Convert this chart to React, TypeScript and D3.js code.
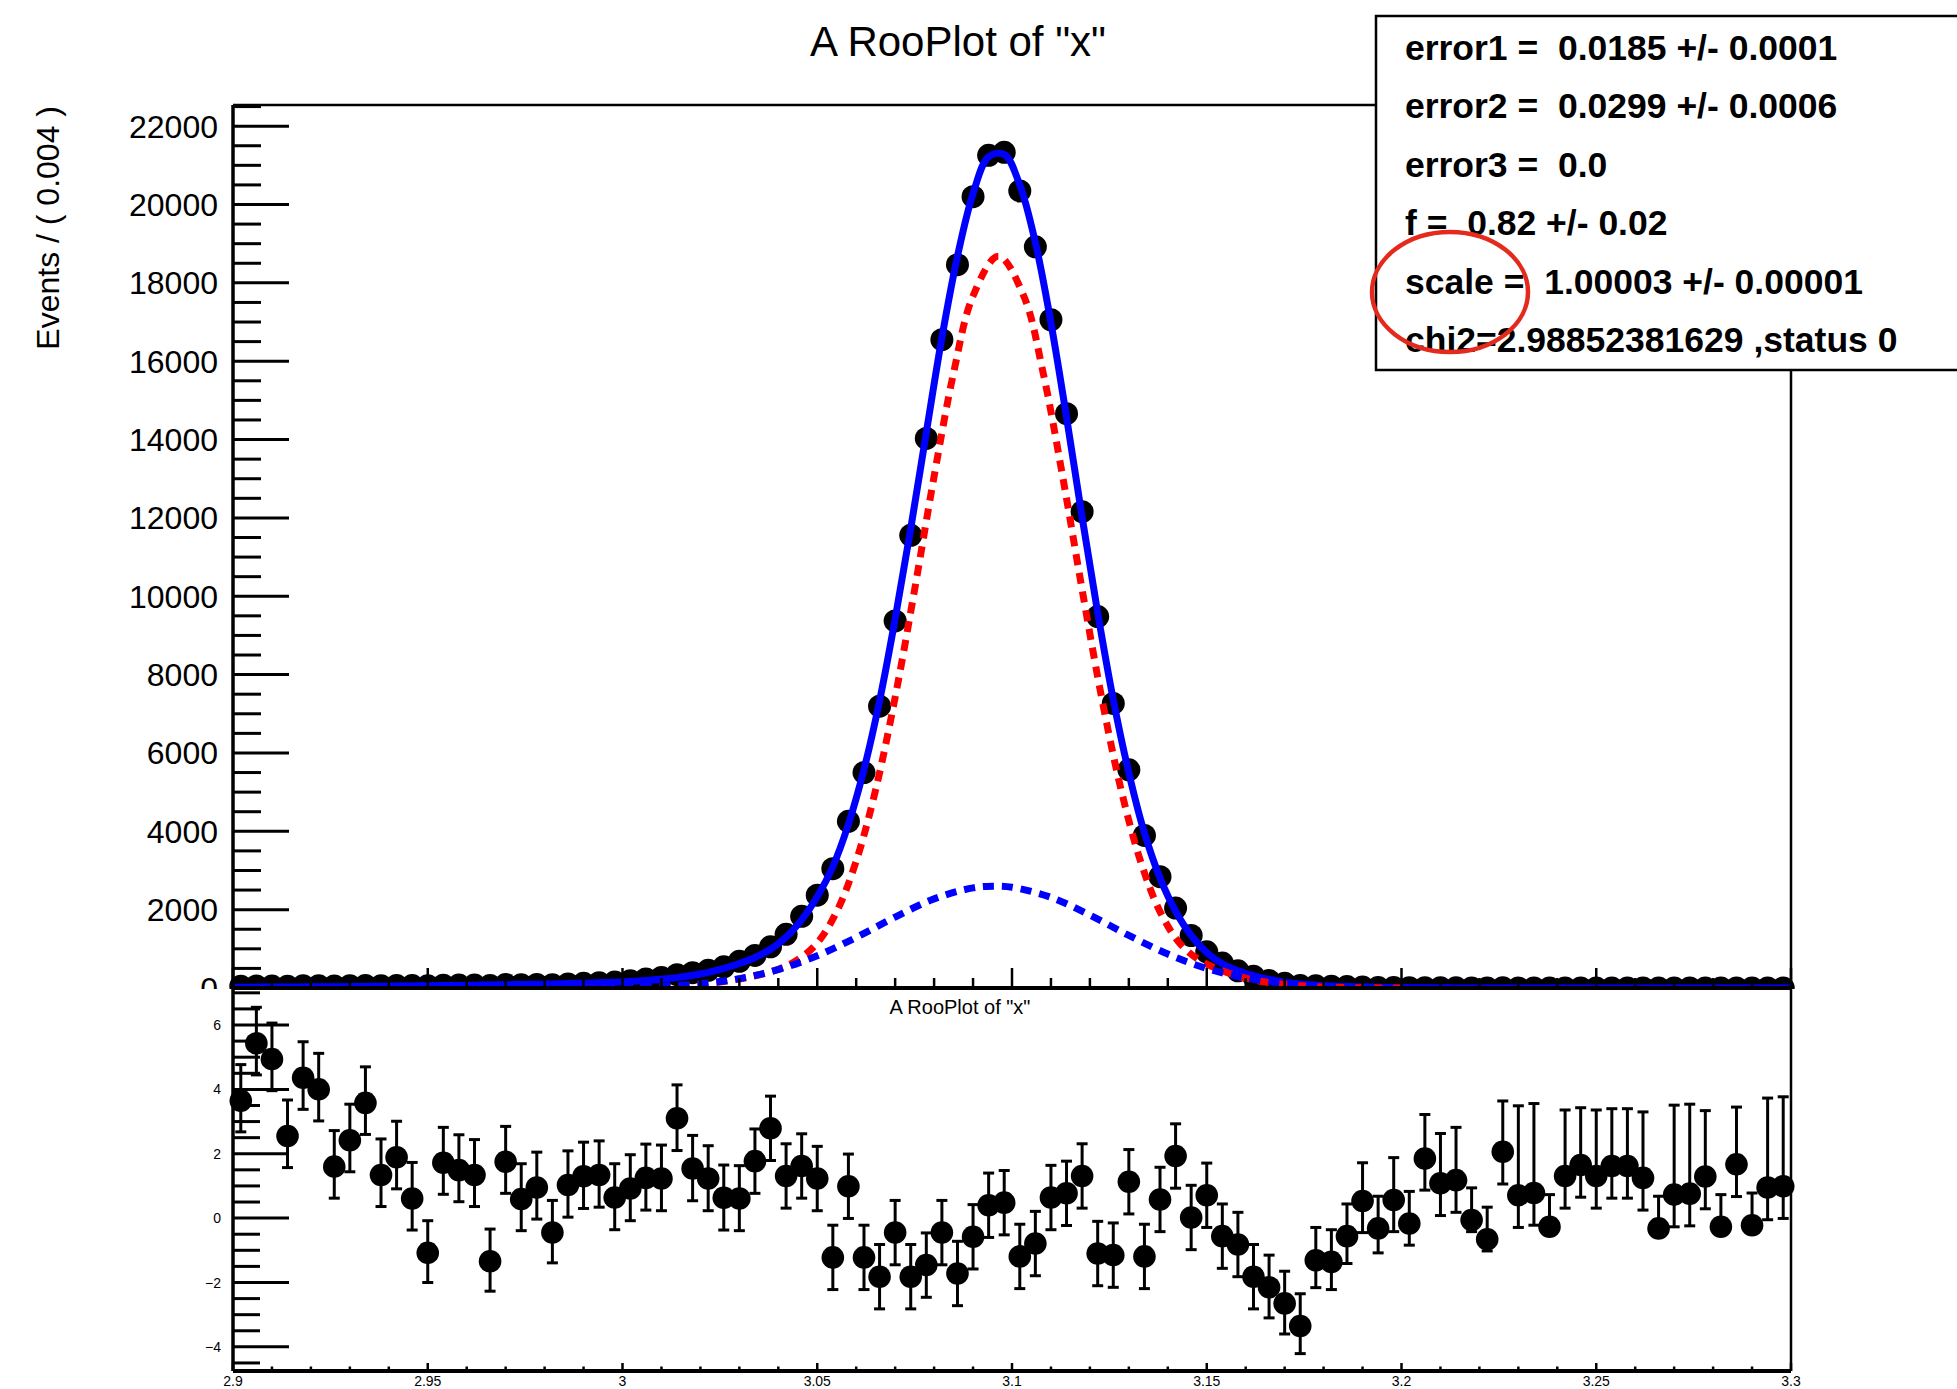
import React from "react";
import * as d3 from "d3";

// ---- binning -------------------------------------------------------------
const X_MIN = 2.9;
const X_MAX = 3.3;
const BIN_WIDTH = 0.004;
const binCenters = d3.range(100).map((i) => X_MIN + BIN_WIDTH * (i + 0.5));

// ---- upper pad: events per bin ------------------------------------------
const events = [
  45, 52, 50, 46, 56, 58, 52, 58, 66, 58,
  64, 62, 56, 72, 74, 76, 66, 88, 84, 92,
  86, 104, 120, 135, 150, 185, 230, 270, 340, 390,
  450, 540, 680, 830, 1050, 1370, 1830, 2370, 3045, 4255,
  5500, 7195, 9370, 11555, 14030, 16550, 18463, 20200, 21255, 21332,
  20345, 18920, 17058, 14660, 12160, 9480, 7265, 5570, 3895, 2843,
  2040, 1340, 925, 635, 440, 300, 190, 120, 62, 55,
  45, 38, 25, 13, 12, 7, 9, 5, 4, 1,
  1, 5, 1, 1, 0, 2, 3, 2, 3, 3,
  2, 0, 1, 1, 2, 0, 3, 0, 1, 1,
];

// total fit model, sampled at the range edges and every bin centre
const totalCurveX = [X_MIN, ...binCenters, X_MAX];
const totalCurve = [
  19,
  20, 22, 24, 26, 28, 30, 33, 36, 40, 44,
  48, 52, 57, 62, 67, 72, 78, 84, 90, 97,
  104, 112, 122, 134, 148, 166, 190, 222, 265, 325,
  400, 500, 625, 780, 990, 1300, 1740, 2330, 3100, 4180,
  5580, 7330, 9420, 11730, 14180, 16600, 18680, 20280, 21220, 21280,
  20500, 19030, 16980, 14570, 12020, 9580, 7360, 5490, 3960, 2810,
  1960, 1340, 905, 620, 440, 315, 220, 150, 100, 68,
  48, 35, 25, 18, 13, 9, 6, 4.5, 3.2, 2.4,
  1.8, 1.4, 1.1, 0.9, 0.8, 0.7, 0.6, 0.55, 0.5, 0.45,
  0.42, 0.4, 0.38, 0.36, 0.34, 0.33, 0.32, 0.31, 0.3, 0.3,
  0.3,
];

// narrow component (red, dashed)
const sig1X = [
  2.99, 3.0, 3.01, 3.02, 3.03, 3.04, 3.045, 3.05, 3.055, 3.06, 3.065, 3.07,
  3.075, 3.08, 3.085, 3.09, 3.0965, 3.103, 3.108, 3.113, 3.118, 3.123, 3.128,
  3.133, 3.138, 3.143, 3.148, 3.153, 3.16, 3.17, 3.18, 3.2,
];
const sig1Y = [
  0, 5, 30, 95, 230, 480, 720, 1150, 1950, 3240, 5065, 7420,
  10170, 13060, 15700, 17670, 18680, 17670, 15700, 13060, 10170, 7420, 5065,
  3240, 1950, 1150, 720, 480, 250, 90, 25, 0,
];

// wide component (blue, dashed)
const sig2X = [
  2.99, 3.0, 3.01, 3.02, 3.03, 3.04, 3.05, 3.06, 3.07, 3.08, 3.09, 3.095, 3.1,
  3.11, 3.12, 3.13, 3.14, 3.15, 3.16, 3.17, 3.18, 3.19, 3.2,
];
const sig2Y = [
  6, 16, 45, 110, 240, 470, 823, 1291, 1812, 2275, 2556, 2600, 2571,
  2313, 1862, 1342, 866, 499, 258, 119, 49, 18, 6,
];

// ---- lower pad: pulls per bin -------------------------------------------
const pulls = [
  3.65, 5.43, 4.94, 2.55, 4.36, 4.0, 1.6, 2.42, 3.58, 1.34,
  1.89, 0.61, -1.08, 1.72, 1.49, 1.34, -1.34, 1.75, 0.59, 0.95,
  -0.45, 1.03, 1.3, 1.34, 0.64, 0.92, 1.25, 1.23, 3.1, 1.54,
  1.23, 0.63, 0.61, 1.77, 2.79, 1.31, 1.62, 1.23, -1.22, 0.99,
  -1.22, -1.82, -0.45, -1.82, -1.46, -0.45, -1.72, -0.58, 0.4, 0.48,
  -1.19, -0.79, 0.64, 0.77, 1.31, -1.1, -1.15, 1.13, -1.19, 0.58,
  1.93, 0.02, 0.71, -0.56, -0.82, -1.82, -2.15, -2.65, -3.35, -1.31,
  -1.36, -0.56, 0.53, -0.32, 0.56, -0.17, 1.85, 1.08, 1.18, -0.06,
  -0.66, 2.06, 0.71, 0.78, -0.27, 1.31, 1.65, 1.31, 1.62, 1.62,
  1.25, -0.32, 0.73, 0.76, 1.29, -0.27, 1.67, -0.22, 0.95, 0.99,
];
const pullErrHi = [
  1.12, 1.12, 1.12, 1.12, 1.12, 1.12, 1.12, 1.12, 1.12, 1.12,
  1.12, 1.12, 1.0, 1.1, 1.1, 1.1, 1.0, 1.1, 1.1, 1.1,
  1.0, 1.06, 1.06, 1.06, 1.05, 1.05, 1.05, 1.04, 1.04, 1.03,
  1.02, 1.02, 1.02, 1.0, 1.0, 1.0, 1.0, 1.0, 1.0, 1.0,
  1.0, 1.0, 1.0, 1.0, 1.0, 1.0, 1.0, 1.0, 1.0, 1.0,
  1.0, 1.0, 1.0, 1.0, 1.0, 1.0, 1.0, 1.0, 1.0, 1.0,
  1.0, 1.0, 1.0, 1.0, 1.0, 1.0, 1.0, 1.0, 1.0, 1.02,
  1.0, 1.0, 1.19, 1.0, 1.32, 1.0, 1.37, 1.55, 1.64, 1.0,
  1.0, 1.58, 2.78, 2.78, 1.0, 2.05, 1.78, 2.05, 1.78, 1.78,
  2.05, 1.0, 2.78, 2.78, 2.05, 1.0, 1.78, 1.0, 2.78, 2.78,
];
const pullErrLo = [
  0.97, 0.98, 0.98, 0.98, 0.98, 0.98, 0.98, 0.98, 0.98, 0.98,
  0.98, 0.98, 0.92, 0.98, 0.98, 0.98, 0.93, 0.98, 0.98, 0.98,
  0.94, 1.0, 1.0, 1.0, 1.0, 1.0, 1.0, 1.0, 1.0, 1.0,
  1.0, 1.0, 1.0, 1.0, 1.0, 1.0, 1.0, 1.0, 1.0, 1.0,
  1.0, 1.0, 1.0, 1.0, 1.0, 1.0, 1.0, 1.0, 1.0, 1.0,
  1.0, 1.0, 1.0, 1.0, 1.0, 1.0, 1.0, 1.0, 1.0, 1.0,
  1.0, 1.0, 1.0, 1.0, 1.0, 1.0, 0.95, 0.95, 0.86, 0.85,
  0.86, 0.85, 0.98, 0.76, 0.98, 0.67, 0.98, 1.0, 1.0, 0.36,
  0.36, 1.0, 1.0, 1.0, 0.0, 1.0, 1.0, 1.0, 1.0, 1.0,
  1.0, 0.0, 1.0, 1.0, 1.0, 0.0, 1.0, 0.0, 1.0, 1.0,
];

// ---- axis ticks and labels ----------------------------------------------
const countTicks = [0, 2000, 4000, 6000, 8000, 10000, 12000, 14000, 16000, 18000, 20000, 22000];
const pullTicks = [-4, -2, 0, 2, 4, 6];
const pullTickLabels = ["\u22124", "\u22122", "0", "2", "4", "6"];
const massTicks = [2.9, 2.95, 3.0, 3.05, 3.1, 3.15, 3.2, 3.25, 3.3];
const massTickLabels = ["2.9", "2.95", "3", "3.05", "3.1", "3.15", "3.2", "3.25", "3.3"];

const titleText = 'A RooPlot of "x"';
const yAxisTitle = "Events / ( 0.004 )";
const fitLines = [
  "error1 =  0.0185 +/- 0.0001",
  "error2 =  0.0299 +/- 0.0006",
  "error3 =  0.0",
  "f =  0.82 +/- 0.02",
  "scale =  1.00003 +/- 0.00001",
  "chi2=2.98852381629 ,status 0",
];

const FONT = '"Liberation Sans", Arial, Helvetica, sans-serif';

export default function App() {
  const W = 1957;
  const H = 1389;
  const left = 233;
  const right = 1791;
  const top = 105;
  const split = 988;
  const bottom = 1371;

  const x = d3.scaleLinear().domain([X_MIN, X_MAX]).range([left, right]);
  const yCount = d3.scaleLinear().domain([0, 22540]).range([split, top]);
  const yPull = d3.scaleLinear().domain([-4.75, 7.15]).range([bottom, split]);

  const curvePath = (xs: number[], ys: number[]) =>
    d3
      .line<number>()
      .x((_, i) => x(xs[i]))
      .y((d) => yCount(d))
      .curve(d3.curveCatmullRom.alpha(0.5))(ys) || "";

  const minorCount = d3.range(0, 22541, 500).filter((v) => v % 2000 !== 0);
  const minorPull = d3.range(-4.5, 7.01, 0.5).filter((v) => Math.abs(v % 2) > 1e-6);
  const minorMass = d3.range(1, 40).map((k) => X_MIN + k * 0.01).filter((_, k) => (k + 1) % 5 !== 0);

  const capHalf = 5.5;

  return (
    <svg
      width={W}
      height={H}
      viewBox={`0 0 ${W} ${H}`}
      style={{ position: "absolute", left: 0, top: 0, background: "#fff", fontFamily: FONT }}
    >
      <defs>
        <clipPath id="upperFrame">
          <rect x={left} y={top} width={right - left} height={split - top} />
        </clipPath>
      </defs>
      <rect x={0} y={0} width={W} height={H} fill="#fff" />

      {/* ===== upper pad ===== */}
      <g>
        {/* data points */}
        {events.map((v, i) => (
          <circle key={`d${i}`} cx={x(binCenters[i])} cy={yCount(v)} r={11.5} fill="#000" />
        ))}
        <g clipPath="url(#upperFrame)">
          {/* total model */}
          <path d={curvePath(totalCurveX, totalCurve)} fill="none" stroke="#0000ff" strokeWidth={7} strokeLinejoin="round" />
          {/* narrow component */}
          <path d={curvePath(sig1X, sig1Y)} fill="none" stroke="#ff0000" strokeWidth={7} strokeDasharray="11 8" />
          {/* wide component */}
          <path d={curvePath(sig2X, sig2Y)} fill="none" stroke="#0000ff" strokeWidth={7} strokeDasharray="11 8" />
        </g>

        {/* y axis */}
        {countTicks.map((v) => (
          <g key={`ct${v}`}>
            <line x1={left} x2={left + 56} y1={yCount(v)} y2={yCount(v)} stroke="#000" strokeWidth={3} />
            <text x={218} y={yCount(v)} dy="0.36em" textAnchor="end" fontSize={32} fill="#000">
              {String(v)}
            </text>
          </g>
        ))}
        {minorCount.map((v) => (
          <line key={`cm${v}`} x1={left} x2={left + 28} y1={yCount(v)} y2={yCount(v)} stroke="#000" strokeWidth={3} />
        ))}
        {/* x axis ticks of the upper frame */}
        {massTicks.map((v) => (
          <line key={`mt${v}`} x1={x(v)} x2={x(v)} y1={split} y2={split - 20} stroke="#000" strokeWidth={2.5} />
        ))}
        {minorMass.map((v) => (
          <line key={`mm${v}`} x1={x(v)} x2={x(v)} y1={split} y2={split - 10} stroke="#000" strokeWidth={2.5} />
        ))}
        {/* frame */}
        <line x1={left} x2={right} y1={top} y2={top} stroke="#000" strokeWidth={2.5} />
        <line x1={right} x2={right} y1={top} y2={split} stroke="#000" strokeWidth={2.5} />
        <line x1={left} x2={left} y1={top} y2={split} stroke="#000" strokeWidth={3.5} />

        <text
          transform={`translate(59, ${top + 1}) rotate(-90)`}
          textAnchor="end"
          fontSize={32}
          fill="#000"
        >
          {yAxisTitle}
        </text>
      </g>

      {/* ===== lower pad ===== */}
      <g>
        <rect x={0} y={split + 1} width={W} height={H - split} fill="#fff" />

        {pulls.map((p, i) => {
          const cx = x(binCenters[i]);
          const yHi = yPull(p + pullErrHi[i]);
          const yLo = yPull(p - pullErrLo[i]);
          return (
            <g key={`p${i}`}>
              <line x1={cx} x2={cx} y1={yHi} y2={yLo} stroke="#000" strokeWidth={3} />
              <line x1={cx - capHalf} x2={cx + capHalf} y1={yHi} y2={yHi} stroke="#000" strokeWidth={3} />
              {pullErrLo[i] > 0 && (
                <line x1={cx - capHalf} x2={cx + capHalf} y1={yLo} y2={yLo} stroke="#000" strokeWidth={3} />
              )}
              <circle cx={cx} cy={yPull(p)} r={11.3} fill="#000" />
            </g>
          );
        })}

        {pullTicks.map((v, k) => (
          <g key={`pt${v}`}>
            <line x1={left} x2={left + 56} y1={yPull(v)} y2={yPull(v)} stroke="#000" strokeWidth={3} />
            <text x={221} y={yPull(v)} dy="0.36em" textAnchor="end" fontSize={14} fill="#000">
              {pullTickLabels[k]}
            </text>
          </g>
        ))}
        {minorPull.map((v) => (
          <line key={`pm${v}`} x1={left} x2={left + 27} y1={yPull(v)} y2={yPull(v)} stroke="#000" strokeWidth={3} />
        ))}
        {massTicks.map((v, k) => (
          <g key={`bt${v}`}>
            <line x1={x(v)} x2={x(v)} y1={bottom} y2={bottom - 8} stroke="#000" strokeWidth={2.5} />
            <text x={x(v)} y={1386} textAnchor="middle" fontSize={14} fill="#000">
              {massTickLabels[k]}
            </text>
          </g>
        ))}
        {minorMass.map((v) => (
          <line key={`bm${v}`} x1={x(v)} x2={x(v)} y1={bottom} y2={bottom - 4.5} stroke="#000" strokeWidth={2.5} />
        ))}

        {/* frame of the lower pad */}
        <line x1={left} x2={right} y1={split} y2={split} stroke="#000" strokeWidth={4} />
        <line x1={left} x2={right} y1={bottom} y2={bottom} stroke="#000" strokeWidth={4} />
        <line x1={left} x2={left} y1={split} y2={bottom} stroke="#000" strokeWidth={3.5} />
        <line x1={right} x2={right} y1={split} y2={bottom} stroke="#000" strokeWidth={2.5} />

        <text x={960} y={1014} textAnchor="middle" fontSize={20} fill="#000">
          {titleText}
        </text>
      </g>

      {/* ===== title ===== */}
      <text x={958} y={56} textAnchor="middle" fontSize={42} fill="#000">
        {titleText}
      </text>

      {/* ===== fit results box ===== */}
      <rect x={1376} y={16} width={W} height={354} fill="#fff" stroke="#000" strokeWidth={2.5} />
      {fitLines.map((t, k) => (
        <text
          key={`fl${k}`}
          x={1405}
          y={60 + k * 58.4}
          fontSize={35.5}
          fontWeight="bold"
          fill="#000"
          xmlSpace="preserve"
          style={{ whiteSpace: "pre" }}
        >
          {t}
        </text>
      ))}
      <ellipse cx={1450} cy={292} rx={78} ry={60} fill="none" stroke="#e42a1d" strokeWidth={4.5} />
    </svg>
  );
}
